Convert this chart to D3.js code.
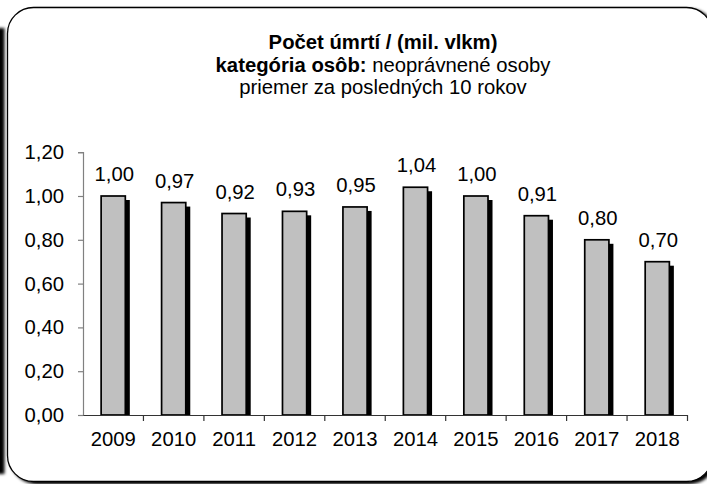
<!DOCTYPE html>
<html><head><meta charset="utf-8">
<script src="https://cdn.jsdelivr.net/npm/d3@7"></script>
<style>
html,body{margin:0;padding:0;background:#fff;}
svg{display:block;font-family:Arial,"Liberation Sans",sans-serif;}
</style></head>
<body>
<script>
const years = ["2009","2010","2011","2012","2013","2014","2015","2016","2017","2018"];
const values = [1.00,0.97,0.92,0.93,0.95,1.04,1.00,0.91,0.80,0.70];
const yTicks = [0,0.2,0.4,0.6,0.8,1.0,1.2];
const titleLine1 = "Počet úmrtí / (mil. vlkm)";
const titleLine2Bold = "kategória osôb:";
const titleLine2Rest = " neoprávnené osoby";
const titleLine3 = "priemer za posledných 10 rokov";

const W = 707, H = 484;
const FS = 20.3;
const fmt = v => d3.format(".2f")(v).replace(".", ",");

const svg = d3.select("body").append("svg").attr("width", W).attr("height", H);
const defs = svg.append("defs");
const f1 = defs.append("filter").attr("id","blurL").attr("x","-50%").attr("y","-10%").attr("width","200%").attr("height","120%");
f1.append("feGaussianBlur").attr("stdDeviation", 1.5);
const f2 = defs.append("filter").attr("id","frameShadow").attr("x","-5%").attr("y","-5%").attr("width","115%").attr("height","115%");
f2.append("feDropShadow").attr("dx",3).attr("dy",2).attr("stdDeviation",1.6).attr("flood-color","#000").attr("flood-opacity",1);
const f3 = defs.append("filter").attr("id","barShadow").attr("x","-30%").attr("y","-10%").attr("width","160%").attr("height","120%");
f3.append("feGaussianBlur").attr("stdDeviation", 0.7);

// left dark edge (neighbouring shadow)
svg.append("rect").attr("x",-10).attr("y",28).attr("width",14.5).attr("height",446)
  .attr("fill","#000").attr("filter","url(#blurL)");

// frame
svg.append("rect").attr("x",7.5).attr("y",7.5).attr("width",705).attr("height",474).attr("rx",26).attr("ry",26)
  .attr("fill","#fff").attr("stroke","#000").attr("stroke-width",1.3).attr("filter","url(#frameShadow)");

// title
const cx = 383;
const t = svg.append("text").attr("text-anchor","middle").attr("font-size",FS).attr("fill","#000");
t.append("tspan").attr("x",cx).attr("y",49).attr("font-weight","bold").text(titleLine1);
const l2 = t.append("tspan").attr("x",cx).attr("y",71.5);
l2.append("tspan").attr("font-weight","bold").text(titleLine2Bold);
l2.append("tspan").text(titleLine2Rest);
t.append("tspan").attr("x",cx).attr("y",94).text(titleLine3);

// scales
const x = d3.scaleBand().domain(years).range([83, 687.5]).paddingInner(0).paddingOuter(0);
const y = d3.scaleLinear().domain([0,1.2]).range([415, 152.2]);
const bw = x.bandwidth() / 2.5;

svg.append("clipPath").attr("id","plotClip").append("rect").attr("x",83).attr("y",100).attr("width",610).attr("height",315);

const gb = svg.append("g");
// shadows
gb.append("g").attr("clip-path","url(#plotClip)").selectAll("rect").data(values).join("rect")
  .attr("x",(d,i)=>x(years[i]) + (x.bandwidth()-bw)/2 + 4.5)
  .attr("y",d=>y(d)+4)
  .attr("width",bw).attr("height",d=>415 - y(d))
  .attr("fill","#000").attr("filter","url(#barShadow)");
// bars
gb.append("g").selectAll("rect").data(values).join("rect")
  .attr("x",(d,i)=>x(years[i]) + (x.bandwidth()-bw)/2)
  .attr("y",d=>y(d))
  .attr("width",bw).attr("height",d=>415 - y(d))
  .attr("fill","#c0c0c0").attr("stroke","#000").attr("stroke-width",1.7);

// labels
svg.append("g").selectAll("text").data(values).join("text")
  .attr("x",(d,i)=>x(years[i]) + x.bandwidth()/2 + 1)
  .attr("y",d=>y(d)-15)
  .attr("text-anchor","middle").attr("font-size",FS).attr("fill","#000")
  .text(d=>fmt(d));

// y axis
const ya = svg.append("g").attr("transform","translate(83,0)")
  .call(d3.axisLeft(y).tickValues(yTicks).tickSize(5).tickPadding(14).tickFormat(fmt));
ya.select(".domain").attr("stroke","#808080").attr("stroke-width",1.2);
ya.selectAll(".tick line").attr("stroke","#808080").attr("stroke-width",1.2);
ya.selectAll(".tick text").attr("font-size",FS).attr("fill","#000").attr("font-family","Arial,'Liberation Sans',sans-serif");

// x axis
const xa = svg.append("g").attr("transform","translate(0,415)")
  .call(d3.axisBottom(x).tickSize(0).tickPadding(17));
xa.select(".domain").attr("stroke","#333").attr("stroke-width",1.2);
xa.selectAll(".tick text").attr("font-size",FS).attr("fill","#000").attr("font-family","Arial,'Liberation Sans',sans-serif");
// boundary ticks
svg.append("g").selectAll("line").data(years).join("line")
  .attr("x1",d=> x(d) + x.bandwidth()).attr("x2",d=> x(d) + x.bandwidth())
  .attr("y1",415).attr("y2",421).attr("stroke","#333").attr("stroke-width",1.2);
</script>
</body></html>
